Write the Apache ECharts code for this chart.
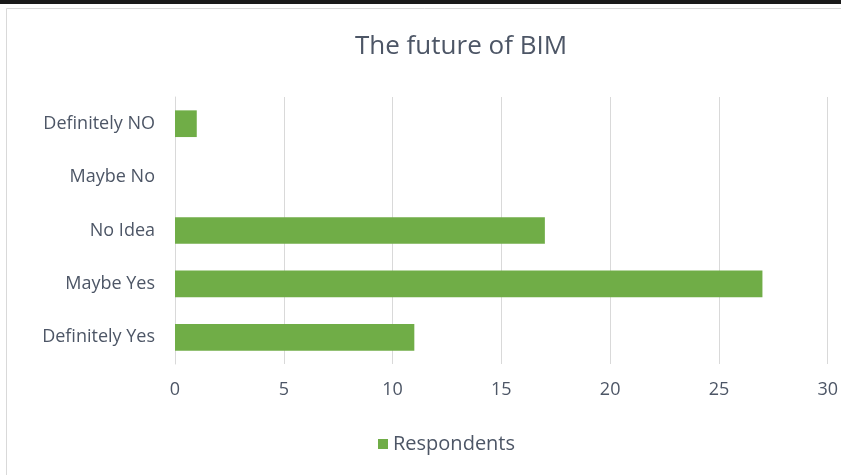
<!DOCTYPE html>
<html>
<head>
<meta charset="utf-8">
<script src="https://cdn.jsdelivr.net/npm/echarts@6/dist/echarts.min.js"></script>
<style>
html,body{margin:0;padding:0;background:#fff;}
#main{width:841px;height:475px;}
</style>
</head>
<body>
<div id="main"></div>
<script>
const categories = ['Definitely Yes', 'Maybe Yes', 'No Idea', 'Maybe No', 'Definitely NO'];
const respondents = [11, 27, 17, 0, 1];
const xTicks = [0, 5, 10, 15, 20, 25, 30];
const seriesName = 'Respondents';

const chart = echarts.init(document.getElementById('main'));
const font = '"Open Sans", sans-serif';
const textColor = '#4d5666';
chart.setOption({
  animation: false,
  backgroundColor: '#fff',
  graphic: [
    { type: 'rect', shape: { x: 0, y: 0, width: 841, height: 4 }, style: { fill: '#1a1a1a' }, silent: true },
    { type: 'rect', shape: { x: 6.5, y: 8.5, width: 840, height: 470 }, style: { fill: 'none', stroke: '#d9d9d9', lineWidth: 1 }, silent: true }
  ],
  title: {
    text: 'The future of BIM',
    left: 350, top: 29,
    textStyle: { fontFamily: font, fontSize: 26, fontWeight: 'normal', color: textColor }
  },
  legend: {
    data: [seriesName],
    left: 373, top: 429,
    icon: 'rect', itemWidth: 10, itemHeight: 10, itemGap: 5,
    textStyle: { fontFamily: font, fontSize: 20, color: textColor }
  },
  grid: { left: 175, right: 13, top: 97, bottom: 111, containLabel: false },
  xAxis: {
    type: 'value', min: xTicks[0], max: xTicks[xTicks.length - 1], interval: 5,
    axisLine: { show: false }, axisTick: { show: false },
    splitLine: { show: true, lineStyle: { color: '#d9d9d9', width: 1 } },
    axisLabel: { fontFamily: font, fontSize: 18, color: textColor, margin: 17 }
  },
  yAxis: {
    type: 'category', data: categories,
    axisLine: { show: true, lineStyle: { color: '#d9d9d9' } },
    axisTick: { show: false },
    axisLabel: { fontFamily: font, fontSize: 18, color: textColor, margin: 20 }
  },
  series: [{
    name: seriesName, type: 'bar', data: respondents,
    barWidth: '50%',
    itemStyle: { color: '#70ad47' }
  }]
});
</script>
</body>
</html>
